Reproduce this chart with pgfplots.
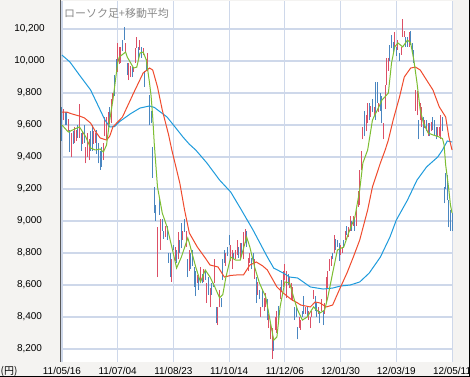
\documentclass[border=0pt]{standalone}
\usepackage{pgfplots}
\usepackage{pgfplotstable}
\pgfplotsset{compat=1.18}
\usepackage{fontspec}
\setmainfont{Liberation Sans}
\newfontfamily\cjk{Noto Sans CJK JP}
\definecolor{bgGray}{HTML}{F4F3F1}
\definecolor{gridC}{HTML}{CED8EA}
\definecolor{candR}{HTML}{DC5066}
\definecolor{candB}{HTML}{4A86C0}
\definecolor{maG}{HTML}{7DBE32}
\definecolor{maR}{HTML}{F04B2D}
\definecolor{maB}{HTML}{1E9BDC}
\definecolor{titleC}{HTML}{8A8A8A}

\pgfplotstableread{
i lo hi
1 9630 9700
4 9560 9640
6 9400 9550
8 9490 9590
9 9500 9570
11 9520 9730
13 9480 9560
15 9360 9460
16 9400 9550
17 9380 9510
20 9480 9560
21 9490 9550
26 9380 9490
27 9530 9650
28 9510 9650
29 9590 9680
31 9610 9760
32 9740 9800
35 9930 10110
36 9980 10090
37 9990 10090
40 10050 10110
42 9880 9990
43 9900 9970
45 9930 9960
46 9990 10080
47 10080 10150
49 10070 10130
51 10040 10080
54 9940 10050
60 8650 8960
62 8820 9010
65 8900 8970
69 8620 8760
71 8750 8840
73 8760 8930
76 8880 8940
78 8840 8940
80 8690 8820
85 8610 8660
87 8630 8710
89 8620 8700
91 8490 8610
93 8460 8580
96 8610 8760
98 8350 8460
99 8460 8570
103 8720 8800
106 8750 8850
107 8700 8820
109 8760 8820
110 8790 8880
112 8760 8860
114 8760 8930
115 8860 8950
117 8690 8770
118 8740 8800
121 8640 8760
123 8540 8620
125 8400 8460
127 8440 8520
128 8460 8550
130 8330 8420
131 8260 8360
132 8140 8330
134 8320 8400
135 8300 8440
137 8510 8590
139 8590 8690
140 8630 8730
141 8520 8690
143 8580 8650
144 8510 8610
145 8500 8590
149 8330 8400
150 8320 8380
153 8420 8460
155 8380 8440
156 8330 8400
157 8400 8440
158 8510 8570
161 8420 8460
163 8440 8510
165 8420 8490
166 8490 8650
167 8580 8690
168 8690 8760
169 8720 8780
171 8800 8910
175 8790 8850
176 8800 8840
178 8880 8940
180 8900 8960
181 8940 9030
183 8970 9030
185 8970 9070
186 9090 9190
187 9100 9320
188 9320 9440
189 9510 9590
191 9560 9660
192 9610 9740
194 9650 9720
196 9660 9710
199 9680 9740
202 9510 9610
203 9700 9850
204 9850 10020
205 9940 10020
209 10090 10180
211 10070 10130
213 10040 10090
214 10150 10260
215 10150 10190
218 10090 10180
222 9690 9820
223 9660 9810
225 9630 9740
226 9590 9710
228 9580 9630
230 9530 9610
232 9560 9620
236 9530 9590
237 9530 9590
238 9510 9660
}\upTab

\pgfplotstableread{
i lo hi
0 9500 9710
2 9600 9680
3 9600 9680
5 9430 9570
7 9480 9560
10 9520 9600
12 9440 9550
14 9490 9600
18 9440 9560
19 9440 9600
22 9420 9570
23 9360 9490
24 9320 9440
25 9340 9460
30 9610 9710
33 9780 9910
34 9940 10010
38 10060 10130
39 10130 10210
41 9910 9990
44 9900 9960
48 10010 10090
50 10020 10090
52 9840 9940
53 9940 10010
55 9600 9790
56 9610 9690
57 9270 9460
58 9050 9210
59 9000 9100
61 9040 9140
63 8940 9010
64 8890 8940
66 8880 8970
67 8740 8800
68 8650 8800
70 8820 8850
72 8740 8820
74 8800 8880
75 8830 8990
77 8930 9010
79 8650 8760
81 8700 8800
82 8720 8820
83 8590 8710
84 8530 8690
86 8570 8650
88 8610 8670
90 8630 8690
92 8540 8650
94 8540 8610
95 8590 8610
97 8360 8460
100 8460 8520
101 8630 8760
102 8740 8820
104 8780 8840
105 8850 8910
108 8760 8800
111 8770 8840
113 8790 8860
116 8840 8940
119 8700 8770
120 8740 8800
122 8490 8650
124 8510 8570
126 8460 8570
129 8380 8510
133 8190 8260
136 8380 8470
138 8560 8630
142 8600 8670
146 8380 8460
147 8400 8460
148 8260 8340
151 8400 8440
152 8420 8530
154 8400 8460
159 8440 8530
160 8400 8490
162 8360 8440
164 8350 8440
170 8760 8800
172 8820 8890
173 8840 8880
174 8750 8860
177 8830 8880
179 8910 8970
182 8940 9000
184 8940 9020
190 9530 9690
193 9630 9740
195 9680 9760
197 9630 9870
198 9740 9870
200 9690 9800
201 9610 9780
206 10000 10100
207 10080 10160
208 10050 10120
210 10030 10090
212 10000 10050
216 10090 10150
217 10090 10150
219 10100 10190
220 10050 10110
221 9990 10070
224 9510 9630
227 9530 9650
229 9560 9630
231 9530 9610
233 9570 9650
234 9530 9630
235 9510 9590
239 9560 9650
240 9110 9210
241 9200 9300
242 9130 9290
243 8960 9130
244 8940 9070
245 8940 9050
}\dnTab

\begin{document}
\begin{tikzpicture}
\path[use as bounding box] (0,0) rectangle (470bp,377bp);
\fill[bgGray] (0,0) rectangle (470bp,377bp);
\begin{axis}[
  at={(61bp,15bp)}, anchor=south west,
  scale only axis, width=392bp, height=361bp,
  xmin=-0.6, xmax=245.6, ymin=8119, ymax=10375,
  axis background/.style={fill=white},
  axis line style={draw=none},
  major tick length=0pt,
  grid=major, major grid style={draw=gridC, line width=1.1bp},
  xtick={0,35,70,105,140,175,210,245},
  xticklabels={11/05/16,11/07/04,11/08/23,11/10/14,11/12/06,12/01/30,12/03/19,12/05/11},
  ytick={8200,8400,...,10200},
  scaled y ticks=false,
  /pgf/number format/1000 sep={,},
  /pgf/number format/assume math mode=true,
  ticklabel style={font=\fontsize{10}{12}\selectfont, text=black},
  yticklabel style={anchor=center, xshift=-31.5bp},
  xticklabel style={anchor=base, yshift=-12bp},
  clip=true,
]
\addplot[draw=none, mark=none, forget plot,
  error bars/.cd, y dir=plus, y explicit, error mark=none,
  error bar style={draw=candR, line width=1bp}]
  table[x=i, y=lo, y error expr=\thisrow{hi}-\thisrow{lo}] {\upTab};
\addplot[draw=none, mark=none, forget plot,
  error bars/.cd, y dir=plus, y explicit, error mark=none,
  error bar style={draw=candB, line width=1bp}]
  table[x=i, y=lo, y error expr=\thisrow{hi}-\thisrow{lo}] {\dnTab};
% 75-day MA (blue)
\addplot[maB, line width=1bp, mark=none] coordinates {
(0,10037) (5,9994) (11,9912) (18,9819) (24,9694) (27,9631) (30,9588) (33,9590)
(36,9620) (43,9670) (49,9706) (55,9719) (58,9710) (66,9650) (71,9588) (76,9525)
(80,9480) (84,9444) (91,9363) (99,9256) (106,9181) (112,9081) (120,8944) (129,8775)
(133,8706) (139,8675) (143,8650) (148,8644) (156,8588) (164,8575) (170,8581)
(175,8594) (181,8600) (187,8619) (193,8675) (200,8775) (206,8900) (210,9006)
(217,9131) (223,9256) (229,9338) (236,9400) (239,9444) (242,9500) (245,9494)};
% 25-day MA (red)
\addplot[maR, line width=1bp, mark=none] coordinates {
(0,9681) (3,9681) (6,9670) (11,9656) (14,9645) (18,9612) (21,9560) (24,9519)
(28,9506) (30,9530) (32,9588) (38,9650) (45,9800) (51,9925) (55,9956) (57,9944)
(60,9838) (63,9694) (67,9538) (69,9444) (74,9238) (77,9069) (80,8925) (85,8838)
(90,8769) (93,8725) (98,8713) (102,8650) (106,8660) (110,8663) (114,8663)
(118,8725) (122,8744) (126,8720) (129,8694) (135,8588) (139,8550) (144,8510)
(148,8488) (150,8475) (156,8463) (159,8494) (162,8488) (166,8463) (170,8475)
(175,8588) (179,8675) (183,8775) (187,8881) (192,9069) (195,9213) (200,9363)
(203,9444) (205,9506) (208,9631) (212,9775) (215,9900) (219,9956) (222,9962)
(225,9944) (229,9881) (233,9819) (237,9713) (241,9650) (243,9525) (245,9444)};
% short MA (green)
\addplot[maG, line width=1bp, mark=none] coordinates {
(0,9600) (4,9556) (8,9575) (11,9588) (15,9525) (18,9456) (21,9444) (24,9450)
(26,9431) (28,9475) (30,9631) (32,9756) (35,9988) (36,10025) (40,10056) (41,10025)
(45,9956) (47,9962) (49,10050) (51,10056) (53,10006) (55,9863) (56,9780) (57,9650)
(58,9480) (60,9213) (63,9050) (66,8963) (69,8838) (72,8706) (75,8775) (79,8894)
(80,8863) (84,8713) (87,8619) (90,8694) (93,8650) (96,8588) (99,8520) (101,8540)
(103,8650) (106,8775) (109,8756) (112,8756) (116,8900) (118,8838) (121,8713)
(124,8613) (128,8525) (131,8363) (133,8256) (135,8275) (137,8463) (140,8619)
(143,8613) (146,8506) (148,8444) (151,8381) (154,8400) (158,8463) (162,8425)
(165,8444) (167,8525) (170,8675) (173,8819) (177,8838) (180,8925) (184,9025)
(187,9194) (189,9363) (192,9444) (195,9631) (199,9713) (201,9756) (205,9800)
(207,9988) (209,10088) (211,10113) (214,10088) (217,10131) (219,10113) (221,10006)
(223,9863) (225,9694) (227,9613) (230,9550) (233,9538) (237,9525) (239,9515)
(240,9475) (241,9350) (243,9194) (244,9100) (245,9050)};
\end{axis}
\draw[black!65, line width=1.5bp] (60.5bp,15bp) -- (60.5bp,377bp);
\node[anchor=west, inner sep=0pt, text=titleC, font=\cjk\fontsize{11}{13}\selectfont] at (64bp,364bp) {ローソク足+移動平均};
\node[anchor=base west, inner sep=0pt, font=\cjk\fontsize{10}{12}\selectfont] at (0.5bp,3bp) {(円)};
\draw[black, line width=1.5bp] (0,0.75bp) -- (469.25bp,0.75bp) -- (469.25bp,377bp);
\end{tikzpicture}
\end{document}
